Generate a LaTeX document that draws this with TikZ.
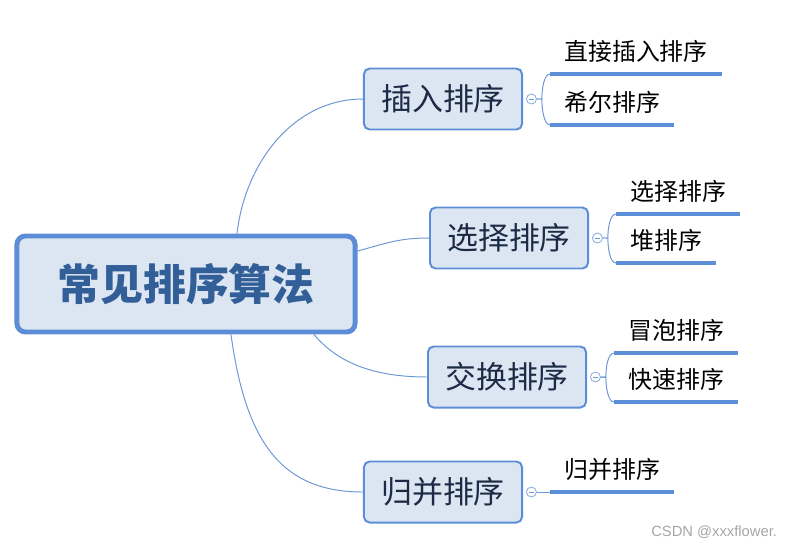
\documentclass[tikz,border=0pt]{standalone}
\usepackage{fontspec}
\newfontfamily\cjk{Noto Sans CJK SC}
\newfontfamily\wmfont{Liberation Sans}
\usetikzlibrary{positioning,calc}
\definecolor{rootline}{HTML}{5B8ED6}
\definecolor{boxfill}{HTML}{DCE6F2}
\definecolor{roottext}{HTML}{335F98}
\definecolor{topictext}{HTML}{1C2B45}
\definecolor{branch}{HTML}{6C98D6}
\definecolor{wmgray}{HTML}{A6A6A6}

\begin{document}
\begin{tikzpicture}[x=0.025cm,y=-0.025cm,every node/.style={font=\cjk,align=center},
root/.style={draw=rootline,fill=boxfill,line width=3.5pt,rounded corners=6pt,minimum width=8.45cm,minimum height=2.4cm,text=roottext,font=\cjk\bfseries\fontsize{30.5}{36}\selectfont},
topic/.style={draw=rootline,fill=boxfill,line width=1.4pt,rounded corners=4pt,minimum width=3.95cm,minimum height=1.525cm,text=topictext,font=\cjk\fontsize{22}{26}\selectfont},
fold/.style={circle,draw=branch!80,fill=white,line width=0.6pt,minimum size=0.25cm,inner sep=0pt,path picture={\draw[branch,line width=0.5pt] ([xshift=-1.8pt]path picture bounding box.center)--([xshift=1.8pt]path picture bounding box.center);}},
leaf/.style={anchor=south west,inner xsep=0.35cm,inner ysep=0pt,minimum height=1.1cm,font=\cjk\fontsize{17}{20}\selectfont},
underline/.style={draw=rootline,line width=2.2pt},
branchline/.style={draw=branch,line width=0.7pt}]
\useasboundingbox (0,0) rectangle (796,548);
\node[root] (algo) at (186,284) {常见排序算法};
\node[topic] (insert) at (443,99) {插入排序};
\node[topic] (select) at (509,238) {选择排序};
\node[topic] (swap) at (507,377) {交换排序};
\node[topic] (merge) at (443,492) {归并排序};
\node[fold,right=0.075cm of insert] (insertfold) {};
\node[fold,right=0.075cm of select] (selectfold) {};
\node[fold,right=0.075cm of swap] (swapfold) {};
\node[fold,right=0.075cm of merge] (mergefold) {};
% leaves
\node[leaf] (direct) at (550,74) {直接插入排序};
\node[leaf] (shell) at (550,125) {希尔排序};
\node[leaf] (selectleaf) at (616,214) {选择排序};
\node[leaf] (heap) at (616,263) {堆排序};
\node[leaf] (bubble) at (614,353) {冒泡排序};
\node[leaf] (quick) at (614,402) {快速排序};
\node[leaf] (mergeleaf) at (550,492) {归并排序};
\foreach \n in {direct,shell,selectleaf,heap,bubble,quick,mergeleaf}
  \draw[underline] (\n.south west)--(\n.south east);
% root to topics
\draw[branchline] ($(algo.north)+(51,0)$) .. controls +(8,-70) and +(-70,0) .. (insert.west);
\draw[branchline] ($(algo.east)+(0,-33)$) .. controls +(30,-8) and +(-30,0) .. (select.west);
\draw[branchline] ($(algo.south)+(128,0)$) .. controls +(25,30) and +(-50,0) .. (swap.west);
\draw[branchline] ($(algo.south)+(45,0)$) .. controls +(15,110) and +(-80,0) .. (merge.west);
% topics to leaves
\draw[branchline] (insertfold.east)--++(5,0) .. controls +(0,-10) and +(-6,0) .. (direct.south west);
\draw[branchline] (insertfold.east)--++(5,0) .. controls +(0,10) and +(-6,0) .. (shell.south west);
\draw[branchline] (selectfold.east)--++(5,0) .. controls +(0,-10) and +(-6,0) .. (selectleaf.south west);
\draw[branchline] (selectfold.east)--++(5,0) .. controls +(0,10) and +(-6,0) .. (heap.south west);
\draw[branchline] (swapfold.east)--++(5,0) .. controls +(0,-10) and +(-6,0) .. (bubble.south west);
\draw[branchline] (swapfold.east)--++(5,0) .. controls +(0,10) and +(-6,0) .. (quick.south west);
\draw[branchline] (mergefold.east)--(mergeleaf.south west);
\node[font=\wmfont\fontsize{10.5}{12}\selectfont,text=wmgray,anchor=east] (mark) at (782,532) {CSDN @xxxflower.};
\end{tikzpicture}
\end{document}
